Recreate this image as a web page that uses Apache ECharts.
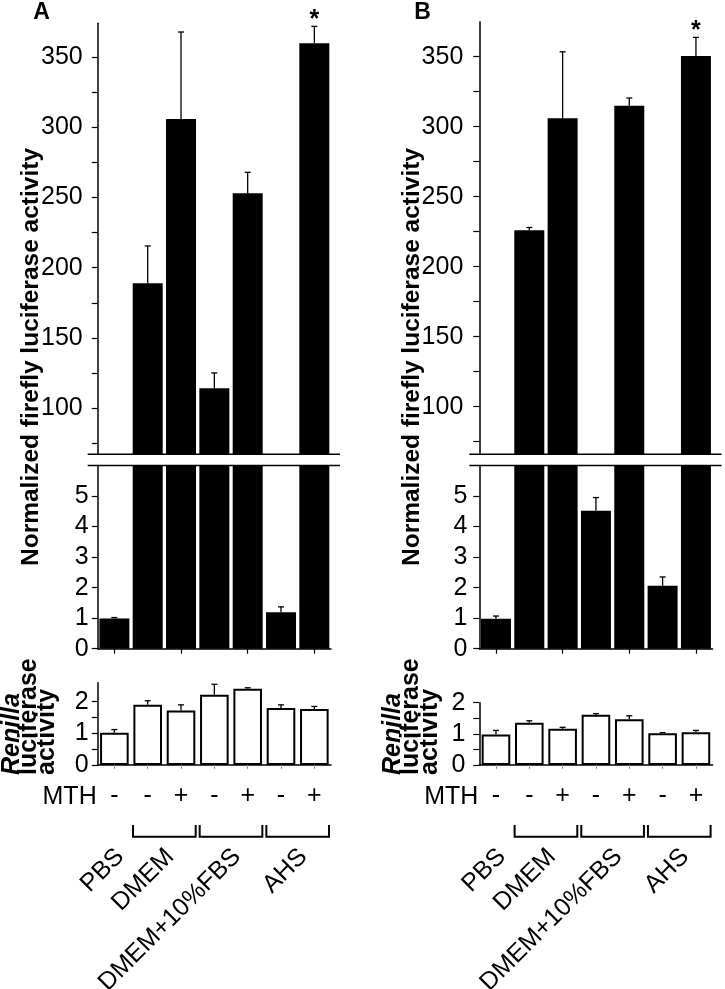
<!DOCTYPE html>
<html>
<head>
<meta charset="utf-8">
<script src="https://cdn.jsdelivr.net/npm/echarts@6/dist/echarts.min.js"></script>
<style>
html,body{margin:0;padding:0;background:#fff;}
#c{width:725px;height:989px;}
</style>
</head>
<body>
<div id="c"></div>
<script>
// ---------------- data ----------------
var categories = ['PBS', 'DMEM-', 'DMEM+', 'FBS-', 'FBS+', 'AHS-', 'AHS+'];
var mthSigns = ['-', '-', '+', '-', '+', '-', '+'];
var groupNames = ['PBS', 'DMEM', 'DMEM+10%FBS', 'AHS'];
var groupStart = [0, 1, 3, 5];
var groupEnd = [0, 2, 4, 6];
var groupBracket = [false, true, true, true];

// Panel A
var fireflyA = [0.99, 189, 306, 114, 253, 1.19, 360];
var fireflySdA = [0.03, 26.5, 62, 11, 15, 0.18, 12];
var renillaA = [1.02, 1.9, 1.72, 2.22, 2.41, 1.8, 1.77];
var renillaSdA = [0.1, 0.13, 0.18, 0.33, 0.03, 0.1, 0.08];
var starsA = ['', '', '', '', '', '', '*'];

// Panel B
var fireflyB = [0.98, 226, 306, 4.52, 315, 2.06, 350.5];
var fireflySdB = [0.09, 2, 47.5, 0.43, 5.5, 0.29, 13.3];
var renillaB = [0.98, 1.36, 1.16, 1.61, 1.47, 1.02, 1.05];
var renillaSdB = [0.13, 0.06, 0.05, 0.04, 0.11, 0.02, 0.06];
var starsB = ['', '', '', '', '', '', '*'];

// tick values
var upperTicks = [75, 100, 125, 150, 175, 200, 225, 250, 275, 300, 325, 350];
var upperLabels = [100, 150, 200, 250, 300, 350];
var lowerTicks = [0, 1, 2, 3, 4, 5];
var renTicks = [0, 0.5, 1, 1.5, 2];
var renLabels = [0, 1, 2];

// ---------------- layout ----------------
var FONT = '"Liberation Sans", Arial, Helvetica, sans-serif';
var FS = 25;
var W = 233.3;
var panels = [
  {letter: 'A', left: 97.7, upTop: 23.3, upBottom: 454.3, upMin: 67, upMax: 374.2,
   loTop: 465.5, loBottom: 648.7, loMax: 6, renTop: 682.7, renBottom: 765, renMax: 2.6,
   upMargin: 15, loMargin: 9, renMargin: 9,
   ff: fireflyA, ffSd: fireflySdA, ren: renillaA, renSd: renillaSdA, stars: starsA,
   titleX: 31, renX: [12, 29.5, 47], letterX: 41.5},
  {letter: 'B', left: 479.3, upTop: 21.7, upBottom: 454.3, upMin: 66, upMax: 375,
   loTop: 465.5, loBottom: 648.7, loMax: 6, renTop: 702.7, renBottom: 765, renMax: 2,
   upMargin: 16, loMargin: 12, renMargin: 14,
   ff: fireflyB, ffSd: fireflySdB, ren: renillaB, renSd: renillaSdB, stars: starsB,
   titleX: 412, renX: [393, 411.5, 430], letterX: 422.5}
];

function makeErr(minV, maxV, stars) {
  return function (params, api) {
    var i = api.value(0), m = api.value(1), sd = api.value(2);
    var top = m + sd;
    if (m >= maxV || top <= minV) return null;
    var y0 = api.coord([i, Math.max(m, minV)])[1];
    var t = Math.min(top, maxV);
    var p1 = api.coord([i, t]);
    var x = p1[0];
    var children = [{type: 'line', shape: {x1: x, y1: y0, x2: x, y2: p1[1]}, style: {stroke: '#000', lineWidth: 1.3}}];
    if (top <= maxV) {
      children.push({type: 'line', shape: {x1: x - 3, y1: p1[1], x2: x + 3, y2: p1[1]}, style: {stroke: '#000', lineWidth: 1.3}});
    }
    if (stars && stars[i]) {
      children.push({type: 'text', x: x, y: p1[1] - 6,
        style: {text: stars[i], font: 'bold 25px ' + FONT, fill: '#000', align: 'center', verticalAlign: 'middle', textAlign: 'center', textVerticalAlign: 'middle'}});
    }
    return {type: 'group', children: children};
  };
}

function makeGroups() {
  return function (params, api) {
    var idx = params.dataIndex;
    var ps = api.coord([groupStart[idx], 0]);
    var pe = api.coord([groupEnd[idx], 0]);
    var band = api.size([1, 0])[0];
    var axisY = ps[1];
    var x1 = ps[0] - band / 2 + 2, x2 = pe[0] + band / 2 - 2;
    var cx = (ps[0] + pe[0]) / 2;
    var children = [];
    if (groupBracket[idx]) {
      children.push({type: 'polyline', shape: {points: [[x1, axisY + 60], [x1, axisY + 71.7], [x2, axisY + 71.7], [x2, axisY + 60]]},
        style: {stroke: '#000', lineWidth: 2, fill: null}});
    }
    children.push({type: 'text', x: cx - 3, y: axisY + 79, rotation: Math.PI / 4,
      style: {text: groupNames[idx], font: FS + 'px ' + FONT, fill: '#000', align: 'right', verticalAlign: 'top', textAlign: 'right', textVerticalAlign: 'top'}});
    return {type: 'group', children: children};
  };
}

var grids = [], xAxes = [], yAxes = [], series = [], graphics = [];
var labelStyle = {color: '#000', fontSize: FS, fontFamily: FONT};
var axisLineStyle = {color: '#000', width: 1.5};

panels.forEach(function (p, pi) {
  var g = pi * 3;
  grids.push({left: p.left, top: p.upTop, width: W, height: p.upBottom - p.upTop});
  grids.push({left: p.left, top: p.loTop, width: W, height: p.loBottom - p.loTop});
  grids.push({left: p.left, top: p.renTop, width: W, height: p.renBottom - p.renTop});

  xAxes.push({type: 'category', gridIndex: g, data: categories, show: false});
  xAxes.push({type: 'category', gridIndex: g + 1, data: categories,
    axisLine: {show: true, onZero: false, lineStyle: axisLineStyle},
    axisTick: {show: true, alignWithLabel: true, length: 5, lineStyle: {color: '#000', width: 1.2}},
    axisLabel: {show: false}, splitLine: {show: false}});
  xAxes.push({type: 'category', gridIndex: g + 2, data: categories,
    axisLine: {show: true, onZero: false, lineStyle: axisLineStyle},
    axisTick: {show: true, alignWithLabel: true, length: 4, lineStyle: {color: '#999', width: 1}},
    axisLabel: {show: true, margin: 19, color: '#000', fontSize: FS, fontFamily: FONT,
      formatter: function (v, i) { return mthSigns[i]; }},
    splitLine: {show: false}});

  yAxes.push({type: 'value', gridIndex: g, min: p.upMin, max: p.upMax,
    axisLine: {show: true, lineStyle: axisLineStyle},
    axisTick: {show: true, length: 6, customValues: upperTicks, lineStyle: {color: '#000', width: 1.2}},
    axisLabel: Object.assign({margin: p.upMargin, customValues: upperLabels}, labelStyle),
    splitLine: {show: false}});
  yAxes.push({type: 'value', gridIndex: g + 1, min: 0, max: p.loMax,
    axisLine: {show: true, lineStyle: axisLineStyle},
    axisTick: {show: true, length: 6, customValues: lowerTicks, lineStyle: {color: '#000', width: 1.2}},
    axisLabel: Object.assign({margin: p.loMargin, customValues: lowerTicks}, labelStyle),
    splitLine: {show: false}});
  yAxes.push({type: 'value', gridIndex: g + 2, min: 0, max: p.renMax,
    axisLine: {show: true, lineStyle: axisLineStyle},
    axisTick: {show: true, length: 6, customValues: renTicks, lineStyle: {color: '#000', width: 1.2}},
    axisLabel: Object.assign({margin: p.renMargin, customValues: renLabels}, labelStyle),
    splitLine: {show: false}});

  var errData = p.ff.map(function (v, i) { return [i, v, p.ffSd[i]]; });
  var renErr = p.ren.map(function (v, i) { return [i, v, p.renSd[i]]; });

  series.push({type: 'bar', xAxisIndex: g, yAxisIndex: g, data: p.ff, barWidth: '90%', clip: true,
    itemStyle: {color: '#000'}});
  series.push({type: 'custom', xAxisIndex: g, yAxisIndex: g, data: errData, encode: {x: 0, y: 1},
    renderItem: makeErr(p.upMin, p.upMax, p.stars), z: 5});
  series.push({type: 'bar', xAxisIndex: g + 1, yAxisIndex: g + 1, data: p.ff, barWidth: '90%', clip: true,
    itemStyle: {color: '#000'}});
  series.push({type: 'custom', xAxisIndex: g + 1, yAxisIndex: g + 1, data: errData, encode: {x: 0, y: 1},
    renderItem: makeErr(0, p.loMax, null), z: 5});
  series.push({type: 'bar', xAxisIndex: g + 2, yAxisIndex: g + 2, data: p.ren, barWidth: 28.6, clip: true,
    itemStyle: {color: '#fff', borderColor: '#000', borderWidth: 2}});
  series.push({type: 'custom', xAxisIndex: g + 2, yAxisIndex: g + 2, data: renErr, encode: {x: 0, y: 1},
    renderItem: makeErr(0, p.renMax, null), z: 5});
  series.push({type: 'custom', xAxisIndex: g + 2, yAxisIndex: g + 2,
    data: groupStart.map(function (s) { return [s, 0]; }), encode: {x: 0, y: 1},
    renderItem: makeGroups(), clip: false, silent: true});

  // break lines
  [p.upBottom, p.loTop].forEach(function (yy) {
    graphics.push({type: 'line', shape: {x1: p.left - 10, y1: yy, x2: p.left + W + 9, y2: yy},
      style: {stroke: '#000', lineWidth: 1.4}, z: 10});
  });
  // panel letter
  graphics.push({type: 'text', x: p.letterX, y: 12.5,
    style: {text: p.letter, font: 'bold 23px ' + FONT, fill: '#000', align: 'center', verticalAlign: 'middle', textAlign: 'center', textVerticalAlign: 'middle'}});
  // main y title
  graphics.push({type: 'text', x: p.titleX, y: 357, rotation: Math.PI / 2,
    style: {text: 'Normalized firefly luciferase activity', font: 'bold 24.5px ' + FONT, fill: '#000',
      align: 'center', verticalAlign: 'middle', textAlign: 'center', textVerticalAlign: 'middle'}});
  // Renilla title
  var rl = [['Renilla', 'italic bold'], ['luciferase', 'bold'], ['activity', 'bold']];
  rl.forEach(function (r, k) {
    graphics.push({type: 'text', x: p.renX[k], y: 775, rotation: Math.PI / 2,
      style: {text: r[0], font: r[1] + ' 25px ' + FONT, fill: '#000',
        align: 'left', verticalAlign: 'middle', textAlign: 'left', textVerticalAlign: 'middle'}});
  });
  // MTH
  graphics.push({type: 'text', x: p.left - 1, y: 797.5,
    style: {text: 'MTH', font: FS + 'px ' + FONT, fill: '#000', align: 'right', verticalAlign: 'middle', textAlign: 'right', textVerticalAlign: 'middle'}});
});

var chart = echarts.init(document.getElementById('c'), null, {renderer: 'canvas'});
chart.setOption({
  animation: false,
  backgroundColor: '#fff',
  textStyle: {fontFamily: FONT},
  grid: grids,
  xAxis: xAxes,
  yAxis: yAxes,
  series: series,
  graphic: {elements: graphics}
});
</script>
</body>
</html>
